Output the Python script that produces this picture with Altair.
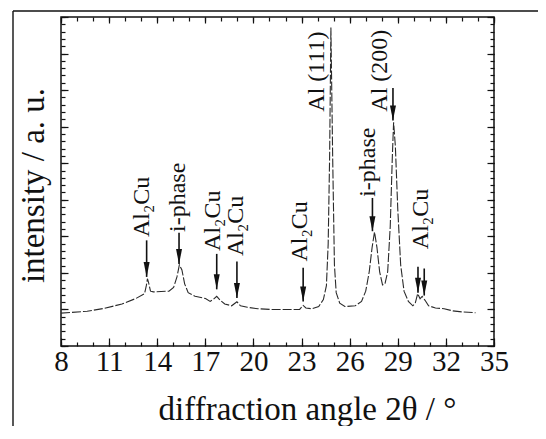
import altair as alt
import pandas as pd

# ---- data ----
angle = [8.0, 9.63, 10.72, 11.80, 12.67, 13.21, 13.32, 13.39, 13.47, 13.58, 13.76, 14.73,
         15.02, 15.23, 15.38, 15.54, 15.71, 15.93, 16.36, 17.01, 17.30, 17.49, 17.71, 17.93,
         18.21, 18.64, 18.97, 19.19, 19.62, 20.27, 21.03, 21.79, 22.88, 23.10, 23.27, 23.64,
         24.07, 24.36, 24.55, 24.66, 24.75, 24.83, 24.94, 25.05, 25.16, 25.38, 25.70, 26.35,
         26.74, 27.00, 27.22, 27.40, 27.55, 27.70, 27.87, 28.05, 28.20, 28.37, 28.53, 28.66,
         28.74, 28.85, 29.00, 29.18, 29.39, 29.66, 29.94, 30.09, 30.24, 30.39, 30.52, 30.70,
         30.92, 31.35, 31.89, 32.43, 33.09, 33.85]
intensity = [0.90, 0.95, 1.03, 1.15, 1.30, 1.43, 1.65, 1.84, 1.72, 1.50, 1.48, 1.50,
             1.60, 1.89, 2.22, 2.08, 1.70, 1.46, 1.36, 1.30, 1.22, 1.27, 1.36, 1.25,
             1.15, 1.10, 1.21, 1.10, 1.06, 1.02, 1.00, 1.00, 1.00, 1.11, 1.04, 1.02,
             1.08, 1.27, 1.65, 2.79, 5.17, 8.71, 5.17, 2.22, 1.46, 1.17, 1.08, 1.10,
             1.22, 1.50, 2.03, 2.70, 3.12, 2.70, 2.03, 1.67, 1.70, 2.03, 3.27, 5.17,
             6.12, 5.46, 3.74, 2.22, 1.50, 1.22, 1.10, 1.17, 1.43, 1.29, 1.36, 1.25,
             1.10, 1.04, 1.02, 0.96, 0.93, 0.91]

arrow_x = [13.34, 15.36, 17.71, 18.97, 23.10, 27.42, 28.70, 30.26, 30.65]
arrow_top = [2.89, 3.10, 2.52, 2.31, 2.14, 4.05, 7.06, 2.17, 2.12]
arrow_tip = [1.89, 2.24, 1.55, 1.31, 1.22, 3.14, 6.17, 1.46, 1.38]

label_x = [13.02, 15.28, 17.47, 18.90, 22.90, 23.96, 27.16, 27.90, 30.46]
label_y = [2.98, 3.12, 2.60, 2.46, 2.31, 6.41, 4.08, 6.41, 2.65]
label_text = ["Al₂Cu", "i-phase", "Al₂Cu", "Al₂Cu", "Al₂Cu", "Al (111)", "i-phase", "Al (200)", "Al₂Cu"]

x_major = [8, 11, 14, 17, 20, 23, 26, 29, 32, 35]
x_minor = list(range(8, 36))
y_major = list(range(0, 10))
y_minor = [i / 5 for i in range(0, 46)]

curve = pd.DataFrame({"angle": angle, "intensity": intensity})
arrows = pd.DataFrame({"x": arrow_x, "top": arrow_top, "tip": arrow_tip})
labels = pd.DataFrame({"x": label_x, "y": label_y, "text": label_text})

FONT = "Liberation Serif"
INK = "#111111"
xs = alt.Scale(domain=[8, 35], nice=False, zero=False)
ys = alt.Scale(domain=[0, 9], nice=False, zero=False)


def xax(orient, values, size, labels=False, title=None, **kw):
    return alt.Axis(orient=orient, values=values, tickSize=size, offset=-size, domain=False,
                    grid=False, labels=labels, title=title, tickColor=INK, tickWidth=1.2, **kw)


line = alt.Chart(curve).mark_line(color="#2a2a2a", strokeWidth=1.1, strokeDash=[9, 2]).encode(
    x=alt.X("angle:Q", scale=xs,
            axis=xax("bottom", x_major, 8, labels=True, title="diffraction angle 2θ / °",
                     labelFont=FONT, labelFontSize=29, labelColor=INK, labelPadding=1,
                     labelFlush=False, labelOverlap=False,
                     titleFont=FONT, titleFontSize=33, titleFontWeight="normal", titleColor=INK,
                     titleX=246, titleY=81, titleBaseline="alphabetic")),
    y=alt.Y("intensity:Q", scale=ys,
            axis=xax("left", y_major, 7, title="intensity / a. u.",
                     titleFont=FONT, titleFontSize=33, titleFontWeight="normal", titleColor=INK,
                     titleX=-25, titleY=168, titleBaseline="alphabetic", titleAngle=270)),
)

shafts = alt.Chart(arrows).mark_rule(color=INK, strokeWidth=1.6).encode(
    x=alt.X("x:Q", scale=xs, axis=xax("bottom", x_minor, 4)),
    y=alt.Y("top:Q", scale=ys, axis=xax("left", y_minor, 4)),
    y2="tip:Q",
)

heads = alt.Chart(arrows).mark_point(
    shape="M-0.4,-2L0.4,-2L0,0Z", size=225, filled=True, color=INK, opacity=1
).encode(
    x=alt.X("x:Q", scale=xs, axis=xax("top", x_major, 6)),
    y=alt.Y("tip:Q", scale=ys, axis=xax("right", y_major, 7)),
)

texts = alt.Chart(labels).mark_text(
    angle=270, align="left", baseline="middle", font=FONT, fontSize=24, color=INK
).encode(
    x=alt.X("x:Q", scale=xs, axis=xax("top", x_minor, 4)),
    y=alt.Y("y:Q", scale=ys, axis=xax("right", y_minor, 4)),
    text="text:N",
)

frame_src = pd.DataFrame({"k": [0]})
frame_left = alt.Chart(frame_src).mark_rule(color=INK, strokeWidth=1.4).encode(
    x=alt.value(-48), y=alt.value(-6), y2=alt.value(600))
frame_top = alt.Chart(frame_src).mark_rule(color=INK, strokeWidth=1.4).encode(
    x=alt.value(-48), x2=alt.value(700), y=alt.value(-6))

chart = alt.layer(line, shafts, heads, texts, frame_left, frame_top).resolve_axis(
    x="independent", y="independent"
).properties(
    width=433, height=329,
    autosize=alt.AutoSizeParams(type="none"),
    padding={"left": 53, "top": 9, "right": 44, "bottom": 80},
    background="white",
).configure_view(stroke=INK, strokeWidth=1.5)

chart.save("out.html", embed_options={"renderer": "svg", "actions": False})
